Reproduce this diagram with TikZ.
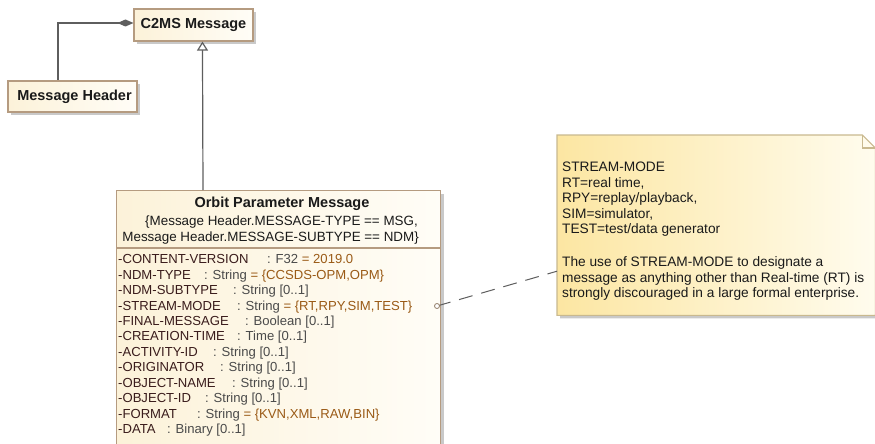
\documentclass[tikz,border=0pt]{standalone}
\usepackage{fontspec}
\setmainfont{Liberation Sans}
\usetikzlibrary{arrows.meta,shadows,calc}
\definecolor{boxborder}{HTML}{B59B80}
\definecolor{boxfillA}{HTML}{FCF2D9}
\definecolor{boxfillB}{HTML}{FFFDF7}
\definecolor{notefillA}{HTML}{FCE6A2}
\definecolor{notefillB}{HTML}{FFFCEE}
\definecolor{noteborder}{HTML}{C9B98F}
\definecolor{connc}{HTML}{5E5E5E}
\definecolor{atname}{HTML}{3A1C1C}
\definecolor{attype}{HTML}{4A4A4A}
\definecolor{atval}{HTML}{9A5A16}
\definecolor{txtc}{HTML}{1A1A1A}
\newcommand\attrline[4]{\makebox[#2pt][l]{\color{atname}-#1}{\color{attype}: #3}{\color{atval}#4}}
\tikzset{
  umlbox/.style={draw=boxborder, line width=1.1pt, left color=boxfillA, right color=boxfillB,
    drop shadow={shadow xshift=3pt, shadow yshift=-3pt, fill=black!35, opacity=.6}, inner sep=0pt},
  boldtxt/.style={font=\fontsize{14.5}{17}\bfseries\selectfont, text=txtc},
  regtxt/.style={font=\fontsize{13.4}{15.5}\selectfont, text=txtc, inner sep=0pt},
  notetxt/.style={font=\fontsize{13.7}{15.5}\selectfont, text=txtc, inner sep=0pt, anchor=base west},
  attrtxt/.style={font=\fontsize{13.1}{15.5}\selectfont, inner sep=0pt, anchor=base west},
  conn/.style={draw=connc, line width=1.2pt},
}
\begin{document}
\begin{tikzpicture}[x=1pt,y=-1pt]
\useasboundingbox[fill=white] (0,0) rectangle (875,444);

% C2MS Message
\node[umlbox, boldtxt, minimum width=119pt, minimum height=32pt] (c2ms) at (193.5,25) {C2MS Message};
% Message Header
\node[umlbox, boldtxt, minimum width=129pt, minimum height=31pt] (mh) at (72.5,96.5) {\hspace*{4pt}Message Header};

% Orbit Parameter Message class
\node[umlbox, anchor=north west, minimum width=324pt, minimum height=262pt] (opm) at (116,190) {};
\draw[draw=boxborder, line width=1.1pt] ([yshift=-58pt]opm.north west) -- ([yshift=-58pt]opm.north east);
\node[boldtxt, anchor=base, inner sep=0pt] (opmt) at (282,207.2) {Orbit Parameter Message};
\node[regtxt, anchor=base east] (c1) at (418,225.6) {\{Message Header.MESSAGE-TYPE == MSG,};
\node[regtxt, anchor=base east] (c2) at (419,241.6) {Message Header.MESSAGE-SUBTYPE == NDM\}};

\node[attrtxt] (a0) at (118,263.7) {\attrline{CONTENT-VERSION}{149}{F32 }{= 2019.0}};
\node[attrtxt] (a1) at (118,279.1) {\attrline{NDM-TYPE}{86}{String }{= \{CCSDS-OPM,OPM\}}};
\node[attrtxt] (a2) at (118,294.6) {\attrline{NDM-SUBTYPE}{115}{String [0..1]}{}};
\node[attrtxt] (a3) at (118,310.0) {\attrline{STREAM-MODE}{119}{String }{= \{RT,RPY,SIM,TEST\}}};
\node[attrtxt] (a4) at (118,325.5) {\attrline{FINAL-MESSAGE}{127}{Boolean [0..1]}{}};
\node[attrtxt] (a5) at (118,340.9) {\attrline{CREATION-TIME}{119}{Time [0..1]}{}};
\node[attrtxt] (a6) at (118,356.4) {\attrline{ACTIVITY-ID}{95}{String [0..1]}{}};
\node[attrtxt] (a7) at (118,371.8) {\attrline{ORIGINATOR}{102}{String [0..1]}{}};
\node[attrtxt] (a8) at (118,387.3) {\attrline{OBJECT-NAME}{114}{String [0..1]}{}};
\node[attrtxt] (a9) at (118,402.7) {\attrline{OBJECT-ID}{87}{String [0..1]}{}};
\node[attrtxt] (a10) at (118,418.2) {\attrline{FORMAT}{79}{String }{= \{KVN,XML,RAW,BIN\}}};
\node[attrtxt] (a11) at (118,433.6) {\attrline{DATA}{49}{Binary [0..1]}{}};

% Note
\node[anchor=north west, minimum width=318pt, minimum height=180pt, inner sep=0pt] (note) at (557,135) {};
\fill[black!35, opacity=.6] ([xshift=3pt,yshift=-3pt]note.north west) -- ([xshift=-10pt,yshift=-3pt]note.north east)
  -- ([xshift=3pt,yshift=-16pt]note.north east) -- ([xshift=3pt,yshift=-3pt]note.south east) -- ([xshift=3pt,yshift=-3pt]note.south west) -- cycle;
\shade[left color=notefillA, right color=notefillB] (note.north west) -- ([xshift=-13pt]note.north east)
  -- ([yshift=-13pt]note.north east) -- (note.south east) -- (note.south west) -- cycle;
\draw[draw=noteborder, line width=1.1pt] (note.north west) -- ([xshift=-13pt]note.north east)
  -- ([yshift=-13pt]note.north east) -- (note.south east) -- (note.south west) -- cycle;
\draw[draw=noteborder, line width=1.1pt] ([xshift=-13pt]note.north east) -- ([xshift=-13pt,yshift=-13pt]note.north east) -- ([yshift=-13pt]note.north east);

\node[notetxt] (n1) at (562,171.6) {STREAM-MODE};
\node[notetxt] (n2) at (562,187.1) {RT=real time,};
\node[notetxt] (n3) at (562,202.6) {RPY=replay/playback,};
\node[notetxt] (n4) at (562,218.1) {SIM=simulator,};
\node[notetxt] (n5) at (562,233.6) {TEST=test/data generator};
\node[notetxt] (n6) at (562,266.6) {The use of STREAM-MODE to designate a};
\node[notetxt] (n7) at (562,282.1) {message as anything other than Real-time (RT) is};
\node[notetxt] (n8) at (562,297.6) {strongly discouraged in a large formal enterprise.};

% connectors
\draw[conn, {Diamond[length=16pt,width=7pt,fill=connc]}-] ([yshift=2pt]c2ms.west) -| ([xshift=-14.5pt]mh.north);
\draw[conn, -{Triangle[open,length=9pt,width=11pt,fill=white]}] ([xshift=87pt]opm.north west) -- ([xshift=69pt]c2ms.south west);
\coordinate (sm) at (437,306);
\draw[conn, line width=1pt, dash pattern=on 14pt off 9pt] (sm) -- ([yshift=-46pt]note.west);
\draw[draw=boxborder!80!black, fill=white, line width=0.8pt] (sm) circle (2.5pt);
\end{tikzpicture}
\end{document}
